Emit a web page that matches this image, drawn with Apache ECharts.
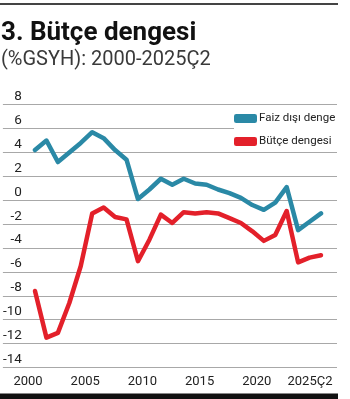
<!DOCTYPE html>
<html>
<head>
<meta charset="utf-8">
<script src="https://cdn.jsdelivr.net/npm/echarts@6/dist/echarts.min.js"></script>
<style>
html,body{margin:0;padding:0;background:#fff;}
#chart{width:350px;height:399px;}
</style>
</head>
<body>
<div id="chart"></div>
<script>
var titleText = '3. Bütçe dengesi';
var subtitleText = '(%GSYH): 2000-2025Ç2';
var categories = ['2000','2001','2002','2003','2004','2005','2006','2007','2008','2009','2010','2011','2012','2013','2014','2015','2016','2017','2018','2019','2020','2021','2022','2023','2024','2025Ç2'];
var faizDisiDenge = [4.2, 5.0, 3.2, 4.0, 4.8, 5.7, 5.2, 4.2, 3.4, 0.1, 0.9, 1.8, 1.3, 1.8, 1.4, 1.3, 0.9, 0.6, 0.2, -0.4, -0.8, -0.2, 1.1, -2.5, -1.8, -1.1];
var butceDengesi = [-7.6, -11.5, -11.1, -8.6, -5.5, -1.1, -0.6, -1.4, -1.6, -5.1, -3.3, -1.2, -1.9, -1.0, -1.1, -1.0, -1.1, -1.5, -1.9, -2.6, -3.4, -2.9, -0.9, -5.2, -4.8, -4.6];
var seriesNames = ['Faiz dışı denge', 'Bütçe dengesi'];
var yMin = -14, yMax = 8, yStep = 2;

var fam = 'Roboto, sans-serif';
var chart = echarts.init(document.getElementById('chart'));
var lastIdx = categories.length - 1;
chart.setOption({
  animation: false,
  backgroundColor: '#fff',
  graphic: [
    {type: 'line', shape: {x1: 0, y1: 4, x2: 338, y2: 4}, style: {stroke: '#444', lineWidth: 2}},
    {type: 'rect', shape: {x: 0, y: 393.5, width: 338, height: 6}, style: {fill: '#111'}},
    {type: 'text', left: 1, top: 20, style: {text: titleText, font: 'bold 26px Roboto, sans-serif', fill: '#111'}},
    {type: 'text', left: 1, top: 50, style: {text: subtitleText, font: '20px Roboto, sans-serif', fill: '#3a3a3a'}}
  ],
  legend: {
    orient: 'vertical',
    left: 234,
    top: 109,
    padding: [2, 3, 2, 0],
    backgroundColor: '#fff',
    itemWidth: 23,
    itemHeight: 9,
    itemGap: 8,
    icon: 'roundRect',
    textStyle: {fontFamily: fam, fontSize: 11.5, color: '#222', padding: [0, 0, 0, -3], lineHeight: 15},
    data: seriesNames
  },
  grid: [
    {left: 1, right: 13, top: 104.7, bottom: 31.5},
    {left: 35, right: 29, top: 104.7, bottom: 31.5}
  ],
  xAxis: [
    {type: 'value', gridIndex: 0, show: false, min: 0, max: 1},
    {
      type: 'category', gridIndex: 1, data: categories, boundaryGap: false,
      axisLine: {show: false}, axisTick: {show: false},
      axisLabel: {
        interval: 4, margin: 8, fontFamily: fam, fontSize: 13, color: '#222',
        formatter: function (v, i) { return i === lastIdx ? '{b|' + v + '}' : '{a|' + v + '}'; },
        rich: {
          a: {fontFamily: fam, fontSize: 13, color: '#222', padding: [0, 14, 0, 0]},
          b: {fontFamily: fam, fontSize: 13, color: '#222', padding: [0, 22, 0, 0]}
        }
      }
    }
  ],
  yAxis: [
    {
      type: 'value', gridIndex: 0, min: yMin, max: yMax, interval: yStep,
      axisLine: {show: false}, axisTick: {show: false},
      splitLine: {lineStyle: {color: '#a8a8a8', width: 1}},
      axisLabel: {inside: true, align: 'right', verticalAlign: 'bottom', margin: 19, padding: [0, 0, 1, 0],
        fontFamily: fam, fontSize: 13.5, color: '#222'}
    },
    {type: 'value', gridIndex: 1, min: yMin, max: yMax, show: false}
  ],
  series: [
    {
      name: seriesNames[0], type: 'line', xAxisIndex: 1, yAxisIndex: 1, data: faizDisiDenge,
      symbol: 'none', color: '#2a89a6',
      lineStyle: {width: 4.5, color: '#2a89a6', cap: 'round', join: 'round'}
    },
    {
      name: seriesNames[1], type: 'line', xAxisIndex: 1, yAxisIndex: 1, data: butceDengesi,
      symbol: 'none', color: '#e3202a',
      lineStyle: {width: 4.5, color: '#e3202a', cap: 'round', join: 'round'}
    }
  ]
});
</script>
</body>
</html>
